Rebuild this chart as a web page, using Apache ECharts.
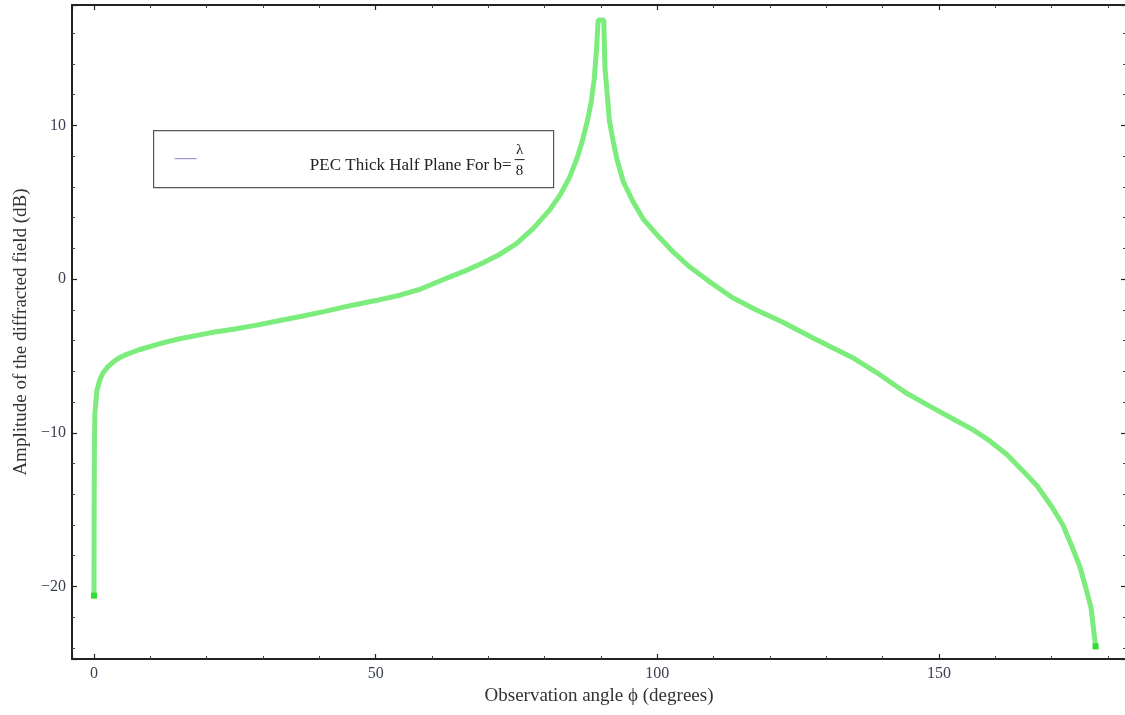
<!DOCTYPE html>
<html>
<head>
<meta charset="utf-8">
<script src="https://cdn.jsdelivr.net/npm/echarts@6/dist/echarts.min.js"></script>
<style>
  html, body { margin: 0; padding: 0; background: #fff; }
  #chart { width: 1125px; height: 715px; }
</style>
</head>
<body>
<div id="chart"></div>
<script>
// observation angle (degrees) and diffracted field amplitude (dB)
const phi = [
  0, 0.03, 0.08, 0.15, 0.5, 1, 1.6, 2.5, 3.4, 4.6, 5.8, 8, 11.7, 15, 20.6, 25, 28.9, 33, 37.1, 41,
  45.9, 50, 54.3, 58, 63.1, 66, 69, 72, 75, 78, 80.9, 82.8, 84.4, 85.7, 86.7, 87.6, 88.3, 88.8,
  89.2, 89.5, 90.5, 90.7, 91.5, 92.2, 92.9, 94, 95.6, 97.5, 100.4, 103, 105.7, 109, 113.3, 117.5,
  122.2, 128, 134.6, 139, 144.1, 148.5, 153, 156, 158.9, 162, 164.7, 167.5, 170, 172, 173.6, 175,
  176, 177, 177.8
];
const amplitude = [
  -20.6, -15, -11, -8.8, -7.3, -6.6, -6.1, -5.7, -5.4, -5.1, -4.9, -4.6, -4.2, -3.9, -3.5, -3.25, -3.0, -2.7, -2.4, -2.1,
  -1.7, -1.4, -1.05, -0.65, 0.13, 0.55, 1.04, 1.6, 2.3, 3.3, 4.5, 5.5, 6.6, 7.8, 9.0, 10.3, 11.6, 13.0,
  14.9, 16.85, 16.85, 13.8, 10.3, 8.9, 7.7, 6.3, 5.1, 3.9, 2.7, 1.7, 0.8, -0.1, -1.2, -2.0,
  -2.8, -3.9, -5.1, -6.1, -7.4, -8.3, -9.2, -9.8, -10.5, -11.4, -12.4, -13.5, -14.8, -16.0, -17.4, -18.7,
  -20.0, -21.4, -23.9
];
const seriesName = 'PEC Thick Half Plane For b=';

const lineColor = '#7ced7c';
const font = 'Liberation Serif';
const labelColor = '#3b4152';

const seriesData = phi.map((x, i) => {
  const item = { value: [x, amplitude[i]] };
  // mathematica draws a darker square at both ends of the curve
  if (i === 0 || i === phi.length - 1) {
    item.symbol = 'rect';
    item.symbolSize = 6;
    item.itemStyle = { color: '#2fdc2f' };
  }
  return item;
});

const minus = v => String(v).replace('-', '\u2212');

const frameAxis = {
  axisLine: { show: true, onZero: false, lineStyle: { color: '#222', width: 2 } },
  axisTick: { show: true, inside: true, length: 5, lineStyle: { color: '#222', width: 1.2 } },
  minorTick: { show: true, splitNumber: 5, length: 3, lineStyle: { color: '#444', width: 1 } },
  splitLine: { show: false },
};

const chart = echarts.init(document.getElementById('chart'));
chart.setOption({
  backgroundColor: '#fff',
  animation: false,
  grid: { left: 72, top: 5, right: -1, bottom: 56, containLabel: false, outerBoundsMode: 'none' },
  xAxis: [
    {
      type: 'value', min: -3.9, max: 183.2, splitNumber: 4, position: 'bottom',
      ...frameAxis,
      axisLabel: {
        fontFamily: font, fontSize: 16, color: labelColor, margin: 7,
        showMinLabel: false, showMaxLabel: false, formatter: minus
      },
      name: 'Observation angle \u03d5 (degrees)',
      nameLocation: 'middle', nameGap: 28,
      nameTextStyle: { fontFamily: font, fontSize: 19, color: '#333' }
    },
    {
      type: 'value', min: -3.9, max: 183.2, splitNumber: 4, position: 'top',
      ...frameAxis, axisLabel: { show: false }
    }
  ],
  yAxis: [
    {
      type: 'value', min: -24.72, max: 17.83, splitNumber: 5, position: 'left',
      ...frameAxis,
      axisLabel: {
        fontFamily: font, fontSize: 16, color: labelColor, margin: 6,
        showMinLabel: false, showMaxLabel: false, formatter: minus
      },
      name: 'Amplitude of the diffracted field (dB)',
      nameLocation: 'middle', nameGap: 40, nameRotate: 90,
      nameTextStyle: { fontFamily: font, fontSize: 19, color: '#333' }
    },
    {
      type: 'value', min: -24.72, max: 17.83, splitNumber: 5, position: 'right',
      ...frameAxis, axisLabel: { show: false }
    }
  ],
  series: [
    {
      name: seriesName,
      type: 'line',
      data: seriesData,
      showSymbol: true,
      symbol: 'none',
      smooth: false,
      lineStyle: { color: lineColor, width: 5 },
      itemStyle: { color: lineColor }
    }
  ],
  graphic: [
    {
      type: 'group', left: 153, top: 130,
      children: [
        { type: 'rect', shape: { x: 0, y: 0, width: 400, height: 57 },
          style: { fill: '#fff', stroke: '#555', lineWidth: 1.2 } },
        { type: 'line', shape: { x1: 21, y1: 28, x2: 43, y2: 28 },
          style: { stroke: '#9a9ad8', lineWidth: 1.2 } },
        { type: 'text', x: 358, y: 35,
          style: { text: seriesName, fontFamily: font, fontSize: 17, fill: '#222',
                   align: 'right', verticalAlign: 'middle' } },
        { type: 'text', x: 366, y: 19,
          style: { text: '\u03bb', fontFamily: font, fontSize: 15, fill: '#222',
                   align: 'center', verticalAlign: 'middle' } },
        { type: 'line', shape: { x1: 361, y1: 29, x2: 371, y2: 29 },
          style: { stroke: '#222', lineWidth: 1 } },
        { type: 'text', x: 366, y: 40,
          style: { text: '8', fontFamily: font, fontSize: 15, fill: '#222',
                   align: 'center', verticalAlign: 'middle' } }
      ]
    }
  ]
});
</script>
</body>
</html>
